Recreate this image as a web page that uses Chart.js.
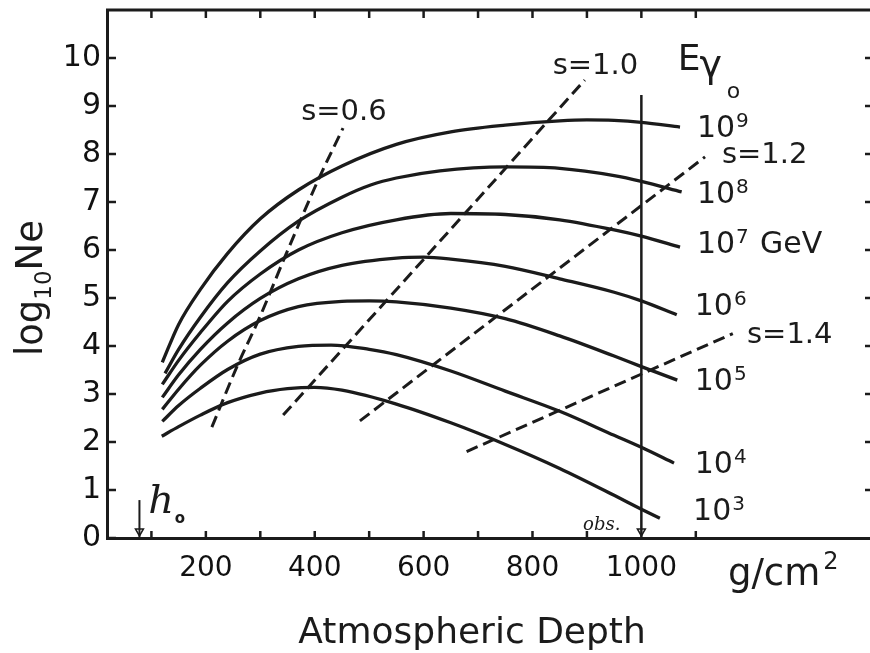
<!DOCTYPE html>
<html>
<head>
<meta charset="utf-8">
<script src="https://cdn.jsdelivr.net/npm/chart.js@4.4.1/dist/chart.umd.min.js"></script>
<style>
  html, body { margin: 0; padding: 0; background: #fff; overflow: hidden; }
  canvas { display: block; }
</style>
</head>
<body>
<canvas id="depthChart" width="870" height="653"></canvas>
<script>
// shower size log10(Ne) against atmospheric depth [g/cm2], one curve per primary energy
const curveE9 = [[120, 3.66], [150, 4.45], [190, 5.18], [240, 5.93], [300, 6.65], [370, 7.25], [450, 7.75], [550, 8.20], [650, 8.46], [750, 8.60], [850, 8.69], [900, 8.71], [950, 8.70], [1000, 8.66], [1071, 8.56]];
const curveE8 = [[125, 3.43], [150, 3.93], [190, 4.60], [240, 5.32], [300, 5.98], [370, 6.60], [450, 7.10], [504, 7.36], [550, 7.50], [630, 7.65], [750, 7.73], [850, 7.70], [950, 7.55], [1000, 7.43], [1074, 7.21]];
const curveE7 = [[120, 3.20], [150, 3.70], [190, 4.28], [240, 4.93], [300, 5.50], [370, 6.00], [450, 6.36], [550, 6.63], [650, 6.76], [750, 6.74], [850, 6.63], [950, 6.42], [1000, 6.29], [1071, 6.06]];
const curveE6 = [[120, 2.93], [150, 3.40], [190, 3.93], [240, 4.48], [300, 4.99], [370, 5.40], [450, 5.68], [550, 5.83], [600, 5.85], [650, 5.81], [750, 5.66], [850, 5.40], [950, 5.12], [1000, 4.94], [1065, 4.65]];
const curveE5 = [[120, 2.68], [150, 3.10], [190, 3.60], [240, 4.10], [300, 4.53], [370, 4.82], [450, 4.93], [500, 4.94], [550, 4.92], [650, 4.79], [750, 4.57], [850, 4.21], [950, 3.79], [1000, 3.57], [1066, 3.29]];
const curveE4 = [[120, 2.43], [150, 2.76], [190, 3.12], [240, 3.51], [300, 3.83], [370, 3.99], [430, 4.02], [500, 3.93], [550, 3.82], [650, 3.48], [750, 3.06], [850, 2.64], [950, 2.14], [1000, 1.89], [1060, 1.56]];
const curveE3 = [[119, 2.12], [150, 2.32], [190, 2.56], [240, 2.82], [300, 3.02], [350, 3.11], [400, 3.14], [450, 3.08], [550, 2.79], [650, 2.40], [750, 1.95], [850, 1.45], [950, 0.89], [1000, 0.60], [1034, 0.41]];

// lines of constant shower age s
const ageS06 = [[211, 2.31], [259, 3.62], [299, 4.60], [345, 5.85], [406, 7.45], [452, 8.54]];
const ageS10 = [[342, 2.56], [602, 5.83], [896, 9.54]];
const ageS12 = [[483, 2.44], [1117, 7.94]];
const ageS14 = [[679, 1.80], [1168, 4.26]];

// observation level and first interaction depth h0
const obsLine = [[1000, 0], [1000, 9.23]];
const h0Line = [[78, 0], [78, 0.79]];
const arrowTips = [[78, 0.14], [1000, 0.14]];

const xTickLabels = [200, 400, 600, 800, 1000];
const xMinorTicks = [100, 200, 300, 400, 500, 600, 700, 800, 900, 1000, 1100];
const yTickLabels = [0, 1, 2, 3, 4, 5, 6, 7, 8, 9, 10];

const energyLabels = [
  { exp: '9', x: 1102, y: 8.35 },
  { exp: '8', x: 1102, y: 6.98 },
  { exp: '7', x: 1102, y: 5.94 },
  { exp: '6', x: 1098, y: 4.65 },
  { exp: '5', x: 1098, y: 3.08 },
  { exp: '4', x: 1098, y: 1.35 },
  { exp: '3', x: 1095, y: 0.375 }
];
const ageLabels = [
  { text: 's=0.6', x: 375, y: 8.71 },
  { text: 's=1.0', x: 837, y: 9.67 },
  { text: 's=1.2', x: 1148, y: 7.81 },
  { text: 's=1.4', x: 1194, y: 4.06 }
];

const INK = '#1b1b1b';
const FONT = '"DejaVu Sans", sans-serif';

const toPoints = arr => arr.map(p => ({ x: p[0], y: p[1] }));

function solid(data, width) {
  return {
    data: toPoints(data),
    borderColor: INK,
    borderWidth: width || 3.3,
    pointRadius: 0,
    cubicInterpolationMode: 'monotone',
    fill: false
  };
}

function dashed(data) {
  return {
    data: toPoints(data),
    borderColor: INK,
    borderWidth: 3,
    borderDash: [12, 6],
    pointRadius: 0,
    cubicInterpolationMode: 'monotone',
    fill: false
  };
}

function text(ctx, str, x, y, font, align) {
  ctx.font = font;
  ctx.textAlign = align || 'left';
  ctx.textBaseline = 'alphabetic';
  ctx.fillText(str, x, y);
  return ctx.measureText(str).width;
}

const decorations = {
  id: 'decorations',
  afterDraw(chart) {
    const ctx = chart.ctx;
    const area = chart.chartArea;
    const xs = chart.scales.x, ys = chart.scales.y;
    const px = v => xs.getPixelForValue(v);
    const py = v => ys.getPixelForValue(v);

    ctx.save();
    ctx.strokeStyle = INK;
    ctx.fillStyle = INK;

    // top frame and inward tick marks
    ctx.lineWidth = 3;
    ctx.beginPath();
    ctx.moveTo(area.left - 1, area.top);
    ctx.lineTo(area.right, area.top);
    ctx.stroke();
    ctx.lineWidth = 2.5;
    xMinorTicks.forEach(v => {
      ctx.beginPath();
      ctx.moveTo(px(v), area.top);
      ctx.lineTo(px(v), area.top + 8);
      ctx.stroke();
      if (v !== 1000) {
        ctx.beginPath();
        ctx.moveTo(px(v), area.bottom);
        ctx.lineTo(px(v), area.bottom - 7);
        ctx.stroke();
      }
    });
    yTickLabels.forEach(v => {
      ctx.beginPath();
      ctx.moveTo(area.left, py(v));
      ctx.lineTo(area.left + 9, py(v));
      ctx.stroke();
      if (v > 0) {
        ctx.beginPath();
        ctx.moveTo(area.right - 5, py(v));
        ctx.lineTo(area.right, py(v));
        ctx.stroke();
      }
    });

    // age labels
    ageLabels.forEach(l => text(ctx, l.text, px(l.x), py(l.y), '29px ' + FONT));

    // primary energy labels
    energyLabels.forEach(l => {
      const w = text(ctx, '10', px(l.x), py(l.y), '30px ' + FONT);
      text(ctx, l.exp, px(l.x) + w + 1, py(l.y) - 10, '20px ' + FONT);
    });
    text(ctx, 'GeV', px(1218), py(5.94), '30px ' + FONT);
    text(ctx, 'E', px(1067), py(9.75), '36px ' + FONT);
    text(ctx, 'γ', px(1107), py(9.6), '38px ' + FONT);
    text(ctx, 'o', px(1157), py(9.17), '22px ' + FONT);

    // observation level and h0 marks
    text(ctx, 'obs.', px(893), py(0.17), 'italic 18px "DejaVu Serif", serif');
    text(ctx, 'h', px(94), py(0.52), 'italic 40px "DejaVu Serif", serif');
    text(ctx, 'o', px(143), py(0.31), 'bold 15px ' + FONT);

    // axis units and titles
    const gw = text(ctx, 'g/cm', px(1159), py(-0.98), '37px ' + FONT);
    text(ctx, '2', px(1159) + gw + 3, py(-0.98) - 16, '24px ' + FONT);
    text(ctx, 'Atmospheric Depth', px(689), py(-2.19), '36px ' + FONT, 'center');

    ctx.translate(42, 288);
    ctx.rotate(-Math.PI / 2);
    ctx.font = '37px ' + FONT;
    const wLog = ctx.measureText('log').width;
    const wNe = ctx.measureText('Ne').width;
    ctx.font = '23px ' + FONT;
    const w10 = ctx.measureText('10').width;
    let cx = -(wLog + w10 + wNe) / 2;
    cx += text(ctx, 'log', cx, 0, '37px ' + FONT);
    cx += text(ctx, '10', cx, 9, '23px ' + FONT);
    text(ctx, 'Ne', cx, 0, '37px ' + FONT);
    ctx.restore();
  }
};

new Chart(document.getElementById('depthChart'), {
  type: 'line',
  data: {
    datasets: [
      solid(curveE9), solid(curveE8), solid(curveE7), solid(curveE6),
      solid(curveE5), solid(curveE4), solid(curveE3),
      dashed(ageS06), dashed(ageS10), dashed(ageS12), dashed(ageS14),
      solid(obsLine, 2.5), solid(h0Line, 2),
      {
        data: toPoints(arrowTips),
        showLine: false,
        pointStyle: 'triangle',
        rotation: 180,
        pointRadius: 4.5,
        pointBackgroundColor: '#fff',
        pointBorderColor: INK,
        pointBorderWidth: 1.6
      }
    ]
  },
  options: {
    responsive: false,
    animation: false,
    layout: { autoPadding: false, padding: { top: 10, right: 0, left: 0, bottom: 0 } },
    plugins: { legend: { display: false }, tooltip: { enabled: false } },
    scales: {
      x: {
        type: 'linear',
        min: 18.4,
        max: 1420,
        afterBuildTicks: scale => { scale.ticks = xTickLabels.map(v => ({ value: v })); },
        afterFit: scale => {
          scale.height = 115;
          scale.paddingLeft = 0;
          scale.paddingRight = 0;
        },
        grid: { display: false, drawTicks: false },
        border: { display: true, color: INK, width: 3 },
        ticks: {
          color: '#111',
          padding: 14,
          maxRotation: 0,
          font: { family: 'DejaVu Sans', size: 28 },
          callback: v => String(v)
        }
      },
      y: {
        min: 0,
        max: 11,
        afterBuildTicks: scale => { scale.ticks = yTickLabels.map(v => ({ value: v })); },
        afterFit: scale => {
          scale.width = 107;
          scale.paddingTop = 0;
          scale.paddingBottom = 0;
        },
        grid: { display: false, drawTicks: false },
        border: { display: true, color: INK, width: 3 },
        ticks: {
          color: '#111',
          padding: 6,
          font: { family: 'DejaVu Sans', size: 30 },
          callback: v => String(v)
        }
      }
    }
  },
  plugins: [decorations]
});
</script>
</body>
</html>
